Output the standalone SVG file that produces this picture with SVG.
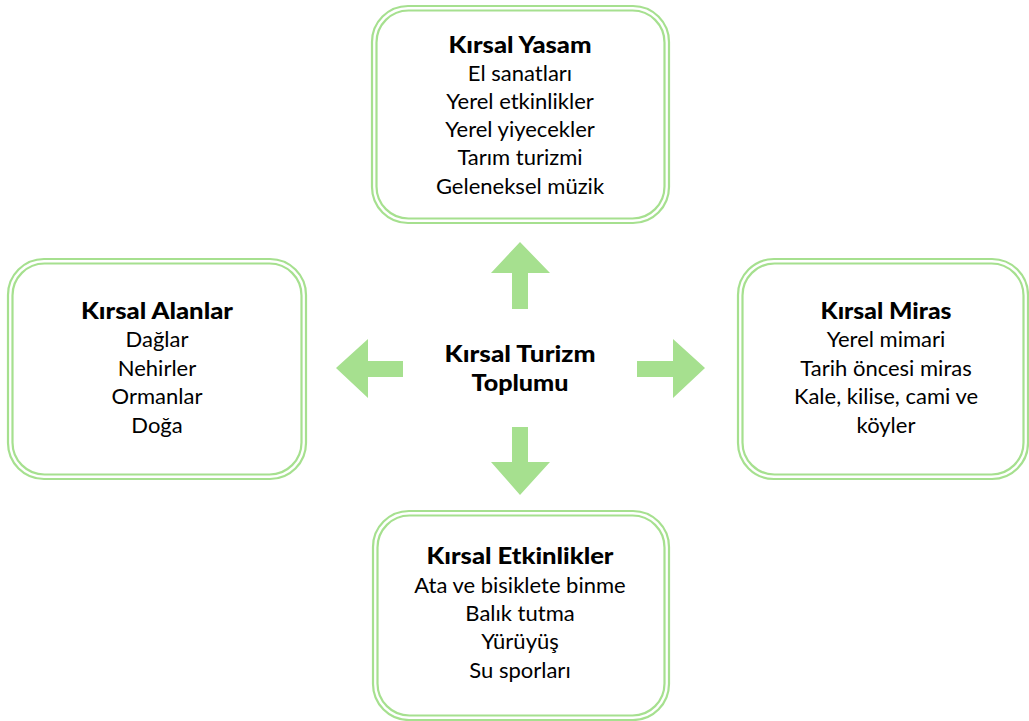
<svg xmlns="http://www.w3.org/2000/svg" width="1029" height="721" viewBox="0 0 1029 721">
<style>
.o{fill:#fff;stroke:#a6e08f;stroke-width:2.2}
.i{fill:none;stroke:#a6e08f;stroke-width:2.2}
text{font-family:Lato,"Liberation Sans",sans-serif;font-size:22px;fill:#000;text-anchor:middle}
.b{font-weight:900}
.a{fill:#a6e08f}
</style>
<rect width="1029" height="721" fill="#fff"/>
<g id="connectors">
<polygon class="a" points="520,242 550,273 528,273 528,309 512,309 512,273 491,273"/>
<polygon class="a" points="336,368 368,339 368,361 403,361 403,377 368,377 368,398"/>
<polygon class="a" points="705,368 673,339 673,361 637,361 637,377 673,377 673,398"/>
<polygon class="a" points="520,495 550,462 528,462 528,427 512,427 512,462 491,462"/>
</g>
<g id="center">
<text class="b" x="520" y="362" textLength="151" lengthAdjust="spacingAndGlyphs">Kırsal Turizm</text>
<text class="b" x="520" y="391" textLength="97" lengthAdjust="spacingAndGlyphs">Toplumu</text>
</g>
<g id="top">
<rect class="o" x="372" y="6" width="297" height="217" rx="36"/>
<rect class="i" x="376.5" y="10.5" width="288" height="208" rx="32"/>
<text class="b" x="520" y="53" textLength="143" lengthAdjust="spacingAndGlyphs">Kırsal Yasam</text>
<text x="520" y="81">El sanatları</text>
<text x="520" y="109">Yerel etkinlikler</text>
<text x="520" y="137">Yerel yiyecekler</text>
<text x="520" y="165">Tarım turizmi</text>
<text x="520" y="194">Geleneksel müzik</text>
</g>
<g id="left">
<rect class="o" x="8" y="259" width="298" height="220" rx="36"/>
<rect class="i" x="12.5" y="263.5" width="289" height="211" rx="32"/>
<text class="b" x="157" y="319" textLength="152" lengthAdjust="spacingAndGlyphs">Kırsal Alanlar</text>
<text x="157" y="347">Dağlar</text>
<text x="157" y="376">Nehirler</text>
<text x="157" y="404">Ormanlar</text>
<text x="157" y="433">Doğa</text>
</g>
<g id="right">
<rect class="o" x="738" y="259" width="290" height="220" rx="36"/>
<rect class="i" x="742.5" y="263.5" width="281" height="211" rx="32"/>
<text class="b" x="886" y="319" textLength="131" lengthAdjust="spacingAndGlyphs">Kırsal Miras</text>
<text x="886" y="347">Yerel mimari</text>
<text x="886" y="376">Tarih öncesi miras</text>
<text x="886" y="404">Kale, kilise, cami ve</text>
<text x="886" y="433">köyler</text>
</g>
<g id="bottom">
<rect class="o" x="373" y="511" width="296" height="209" rx="36"/>
<rect class="i" x="377.5" y="515.5" width="287" height="200" rx="32"/>
<text class="b" x="520" y="564" textLength="187" lengthAdjust="spacingAndGlyphs">Kırsal Etkinlikler</text>
<text x="520" y="593">Ata ve bisiklete binme</text>
<text x="520" y="621">Balık tutma</text>
<text x="520" y="649">Yürüyüş</text>
<text x="520" y="678">Su sporları</text>
</g>
</svg>
